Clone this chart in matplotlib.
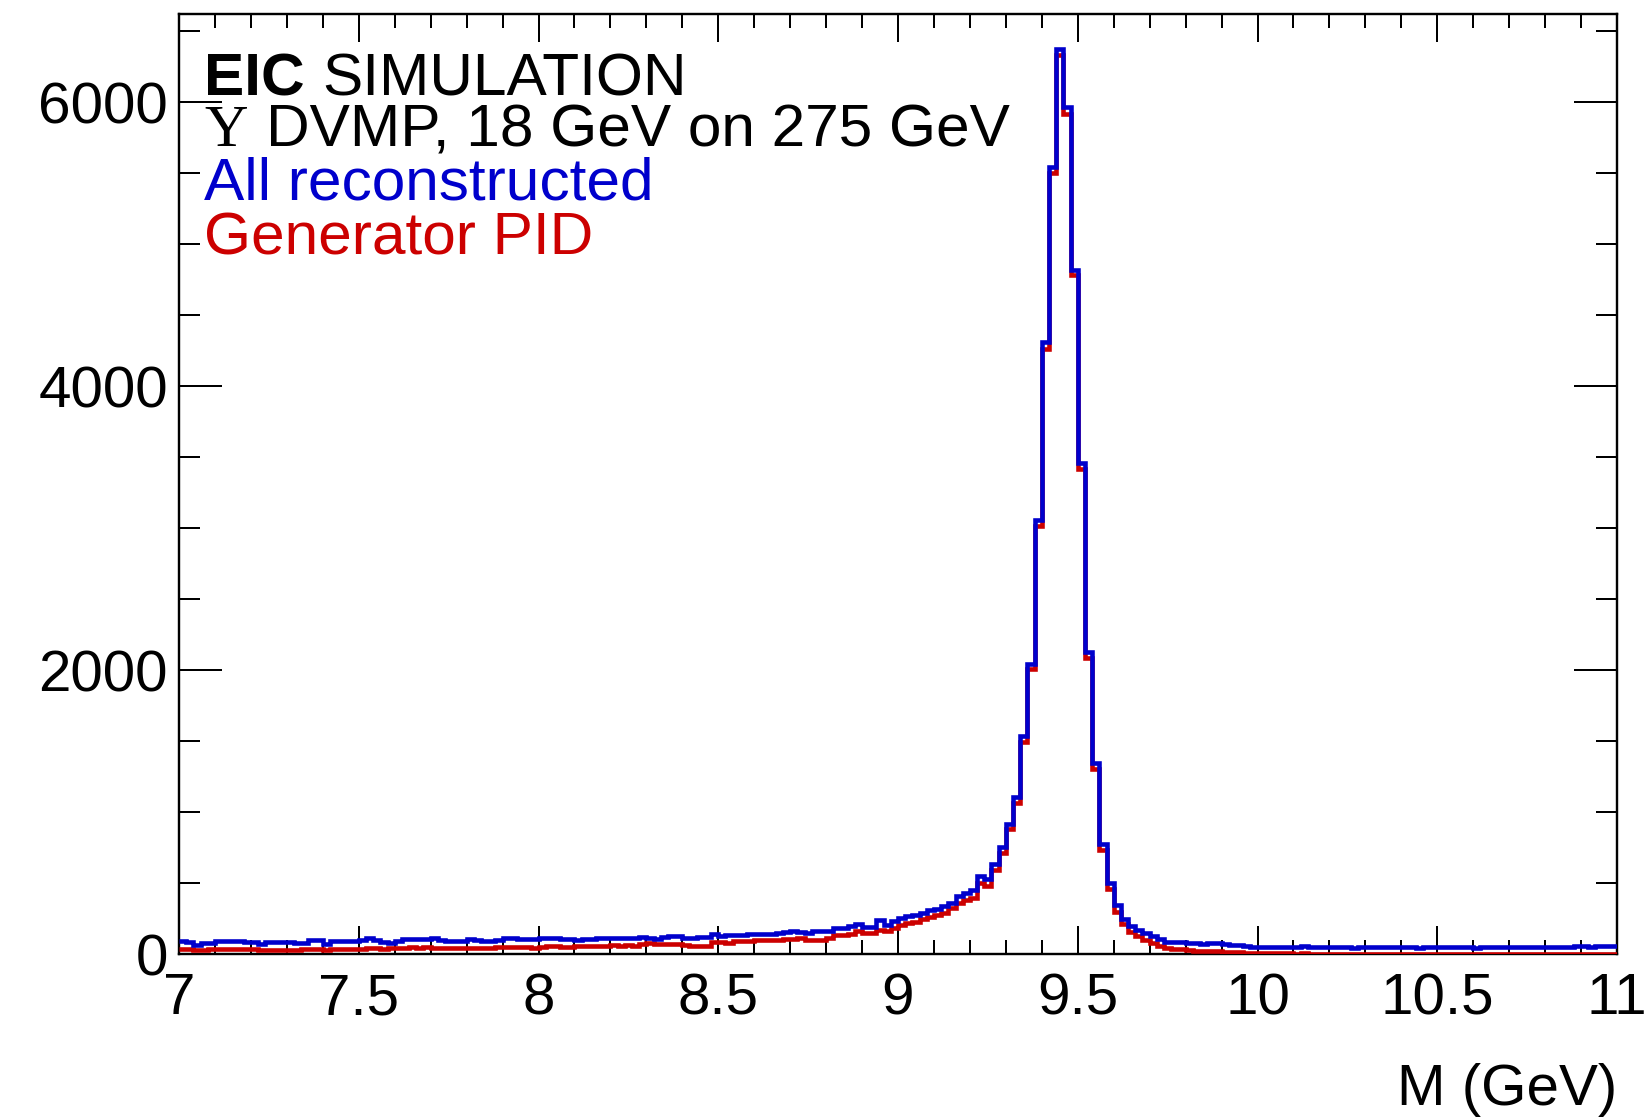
import numpy as np
import matplotlib
matplotlib.use("Agg")
import matplotlib.pyplot as plt
from matplotlib.ticker import MultipleLocator, FuncFormatter

# ---------------- data (bin contents) ----------------
M_MIN, M_MAX, N_BINS = 7.0, 11.0, 200

blue_all = [
    # 7.00 - 8.04
    94, 82, 66, 78, 80, 90, 92, 92, 90, 87, 86, 72, 85, 88, 86, 87, 76, 80, 98, 98,
    72, 92, 94, 95, 93, 100, 110, 96, 82, 80, 90, 104, 106, 105, 106, 114, 100, 95, 93, 94,
    106, 100, 94, 95, 100, 112, 113, 108, 105, 106, 110, 115, 116,
    # 8.06 - 8.84
    106, 106, 99, 104, 108, 110, 116, 116, 111, 111, 115, 122, 110, 108, 122, 128, 130, 116, 111, 118,
    122, 139, 127, 134, 134, 134, 141, 141, 139, 142, 151, 155, 163, 158, 146, 165, 165, 160, 181, 183,
    # 8.86 - 9.98
    200, 210, 190, 192, 240, 202, 235, 252, 268, 272, 292, 312, 316, 337, 360, 405, 430, 450, 548, 530,
    635, 753, 915, 1103, 1536, 2045, 3055, 4310, 5540, 6370, 5965, 4820, 3455, 2125, 1348, 772, 502, 342, 250, 198,
    168, 148, 124, 106, 88, 85, 82, 76, 80, 72, 78, 74, 72, 66, 64, 54, 52,
    # 10.00 - 10.98
    50, 48, 52, 50, 47, 49, 53, 48, 50, 46, 49, 51, 48, 45, 47, 50, 52, 48, 46, 49,
    51, 47, 44, 48, 50, 49, 46, 48, 51, 47, 45, 48, 50, 47, 49, 46, 48, 50, 52, 47,
    49, 48, 51, 50, 53, 55, 52, 54, 56, 53,
]

red_gen = [
    # 7.00 - 8.04
    35, 33, 28, 30, 32, 34, 33, 35, 33, 32, 34, 28, 27, 30, 28, 29, 31, 34, 36, 33,
    30, 35, 36, 34, 36, 38, 42, 40, 37, 39, 41, 44, 46, 45, 47, 44, 42, 41, 43, 40,
    42, 44, 41, 43, 46, 50, 52, 48, 46, 45, 47, 55, 58,
    # 8.06 - 8.84
    48, 46, 53, 55, 54, 56, 55, 60, 58, 61, 59, 72, 74, 70, 68, 69, 67, 62, 56, 55,
    58, 82, 84, 80, 92, 95, 93, 96, 100, 102, 101, 104, 108, 110, 99, 100, 102, 112, 133, 136,
    # 8.86 - 9.98
    140, 160, 148, 150, 172, 165, 182, 205, 217, 225, 245, 258, 272, 287, 322, 360, 381, 393, 500, 481,
    594, 712, 877, 1065, 1494, 2008, 3014, 4258, 5500, 6332, 5915, 4779, 3417, 2083, 1301, 735, 460, 295, 211, 158,
    129, 102, 78, 57, 40, 34, 32, 26, 24, 22, 21, 18, 15, 13, 11, 9, 8,
    # 10.00 - 10.98
    6, 5, 5, 4, 4, 3, 4, 3, 3, 2, 3, 2, 2, 3, 2, 2, 1, 2, 2, 1,
    2, 1, 1, 2, 1, 1, 2, 1, 1, 1, 1, 2, 1, 1, 0, 1, 1, 1, 0, 1,
    1, 0, 1, 1, 0, 1, 1, 0, 1, 1,
]

x_tick_values = [7, 7.5, 8, 8.5, 9, 9.5, 10, 10.5, 11]
y_tick_values = [0, 2000, 4000, 6000]

text_lines = ["EIC", "SIMULATION", "\u03a5", "DVMP, 18 GeV on 275 GeV",
              "All reconstructed", "Generator PID"]
x_label = "M (GeV)"

assert len(blue_all) == N_BINS and len(red_gen) == N_BINS

# ---------------- figure ----------------
W, H, DPI = 1650, 1117, 100
BLUE = "#0000CC"
RED = "#CC0000"
FS = 42      # tick labels / axis title
FS_T = 43.5  # text block
plt.rcParams["font.family"] = ["Liberation Sans", "DejaVu Sans"]

fig = plt.figure(figsize=(W / DPI, H / DPI), dpi=DPI)
L, R, T, B = 179, 1617, 14, 954
ax = fig.add_axes([L / W, 1 - B / H, (R - L) / W, (B - T) / H])

edges = np.linspace(M_MIN, M_MAX, N_BINS + 1)
ax.stairs(red_gen, edges, color=RED, lw=3.3, baseline=None, zorder=3)
ax.stairs(blue_all, edges, color=BLUE, lw=3.3, baseline=None, zorder=4)

ax.set_xlim(M_MIN, M_MAX)
ax.set_ylim(0, 6620)

ax.set_xticks(x_tick_values)
ax.xaxis.set_minor_locator(MultipleLocator(0.1))
ax.set_yticks(y_tick_values)
ax.yaxis.set_minor_locator(MultipleLocator(500))
ax.xaxis.set_major_formatter(FuncFormatter(lambda v, p: f"{v:g}"))
ax.yaxis.set_major_formatter(FuncFormatter(lambda v, p: f"{v:g}"))

px = 72 / DPI
ax.tick_params(which="both", direction="in", top=True, right=True,
               width=2.0 * px, color="black", labelsize=FS)
ax.tick_params(axis="x", which="major", length=28 * px, pad=13)
ax.tick_params(axis="x", which="minor", length=14 * px)
ax.tick_params(axis="y", which="major", length=43 * px, pad=8)
ax.tick_params(axis="y", which="minor", length=21.5 * px)
for s in ax.spines.values():
    s.set_linewidth(2.4 * px)

# x label, right-aligned under the axis
fig.text(R / W, 1 - 1105 / H, x_label, ha="right", va="baseline", fontsize=FS)

# ---------------- text block ----------------
x0 = 204
base = [95, 146, 200, 254]


def fy(b):
    return 1 - b / H


fig.canvas.draw()
r = fig.canvas.get_renderer()

t1 = fig.text(x0 / W, fy(base[0]), text_lines[0], fontsize=FS_T, fontweight="bold",
              va="baseline", ha="left")
bb = t1.get_window_extent(renderer=r)
fig.text((bb.x1 + 18) / W, fy(base[0]), text_lines[1], fontsize=FS_T,
         va="baseline", ha="left")

t3 = fig.text(x0 / W, fy(base[1]), text_lines[2], fontsize=FS_T,
              family=["Liberation Serif", "DejaVu Serif"], va="baseline", ha="left")
bb = t3.get_window_extent(renderer=r)
fig.text((bb.x1 + 18) / W, fy(base[1]), text_lines[3], fontsize=FS_T,
         va="baseline", ha="left")

fig.text(x0 / W, fy(base[2]), text_lines[4], fontsize=FS_T, color=BLUE,
         va="baseline", ha="left")
fig.text(x0 / W, fy(base[3]), text_lines[5], fontsize=FS_T, color=RED,
         va="baseline", ha="left")

fig.savefig("out.png", dpi=DPI)
